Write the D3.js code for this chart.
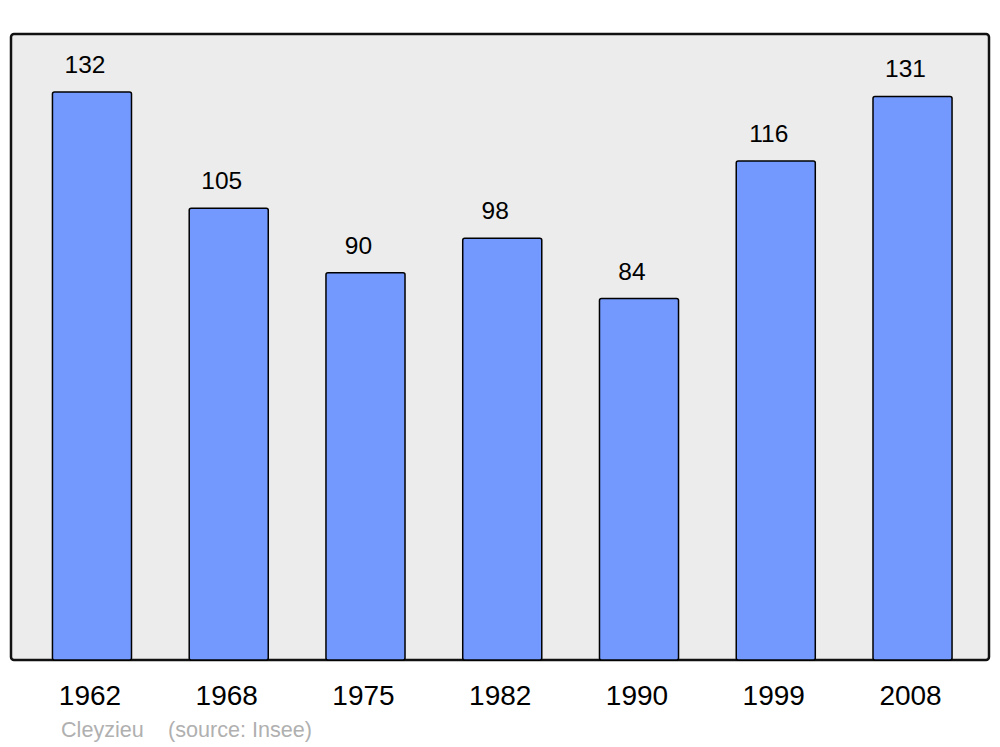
<!DOCTYPE html>
<html>
<head>
<meta charset="utf-8">
<script src="https://cdn.jsdelivr.net/npm/d3@7"></script>
<style>
  body { margin: 0; background: #fff; }
  text { font-family: "Liberation Sans", Arial, sans-serif; }
</style>
</head>
<body>
<svg id="chart" width="1000" height="747"></svg>
<script>
var years = ["1962", "1968", "1975", "1982", "1990", "1999", "2008"];
var population = [132, 105, 90, 98, 84, 116, 131];
var commune = "Cleyzieu";
var source = "(source: Insee)";

var svg = d3.select("#chart");

// frame of the plot
var frame = {left: 11, right: 989, top: 34, bottom: 660};

var x = d3.scaleBand()
    .domain(years)
    .range([23.6, 980.9])
    .paddingInner(0.422)
    .paddingOuter(0.211);

var y = d3.scaleLinear()
    .domain([0, 145.5])
    .range([frame.bottom, frame.top]);

var data = years.map(function(d, i) { return {year: d, value: population[i]}; });

svg.append("rect")
    .attr("x", frame.left)
    .attr("y", frame.top)
    .attr("width", frame.right - frame.left)
    .attr("height", frame.bottom - frame.top)
    .attr("rx", 3)
    .attr("fill", "#ececec")
    .attr("stroke", "#111")
    .attr("stroke-width", 2.5);

var g = svg.append("g");

g.selectAll("rect.bar")
    .data(data)
    .enter().append("rect")
    .attr("class", "bar")
    .attr("x", function(d) { return x(d.year); })
    .attr("y", function(d) { return y(d.value); })
    .attr("width", x.bandwidth())
    .attr("height", function(d) { return y(0) - y(d.value); })
    .attr("rx", 2)
    .attr("fill", "#7399ff")
    .attr("stroke", "#000")
    .attr("stroke-width", 1.5);

// values above bars
g.selectAll("text.val")
    .data(data)
    .enter().append("text")
    .attr("class", "val")
    .attr("x", function(d) { return x(d.year) + x.bandwidth() / 2 - 7; })
    .attr("y", function(d) { return y(d.value) - 19; })
    .attr("text-anchor", "middle")
    .attr("font-size", 24.5)
    .attr("fill", "#000")
    .text(function(d) { return d.value; });

// year labels under the frame
var xAxis = svg.append("g")
    .attr("transform", "translate(0," + frame.bottom + ")")
    .call(d3.axisBottom(x).tickSize(0).tickPadding(0));
xAxis.select(".domain").remove();
xAxis.selectAll("text")
    .attr("dy", null)
    .attr("y", 45)
    .attr("x", -2)
    .attr("font-size", 28)
    .attr("font-family", "Liberation Sans, Arial, sans-serif")
    .attr("fill", "#000");

svg.append("text")
    .attr("x", 61)
    .attr("y", 737)
    .attr("font-size", 21.6)
    .attr("fill", "#b0b0b0")
    .text(commune);

svg.append("text")
    .attr("x", 168)
    .attr("y", 737)
    .attr("font-size", 21.6)
    .attr("fill", "#b0b0b0")
    .text(source);
</script>
</body>
</html>
